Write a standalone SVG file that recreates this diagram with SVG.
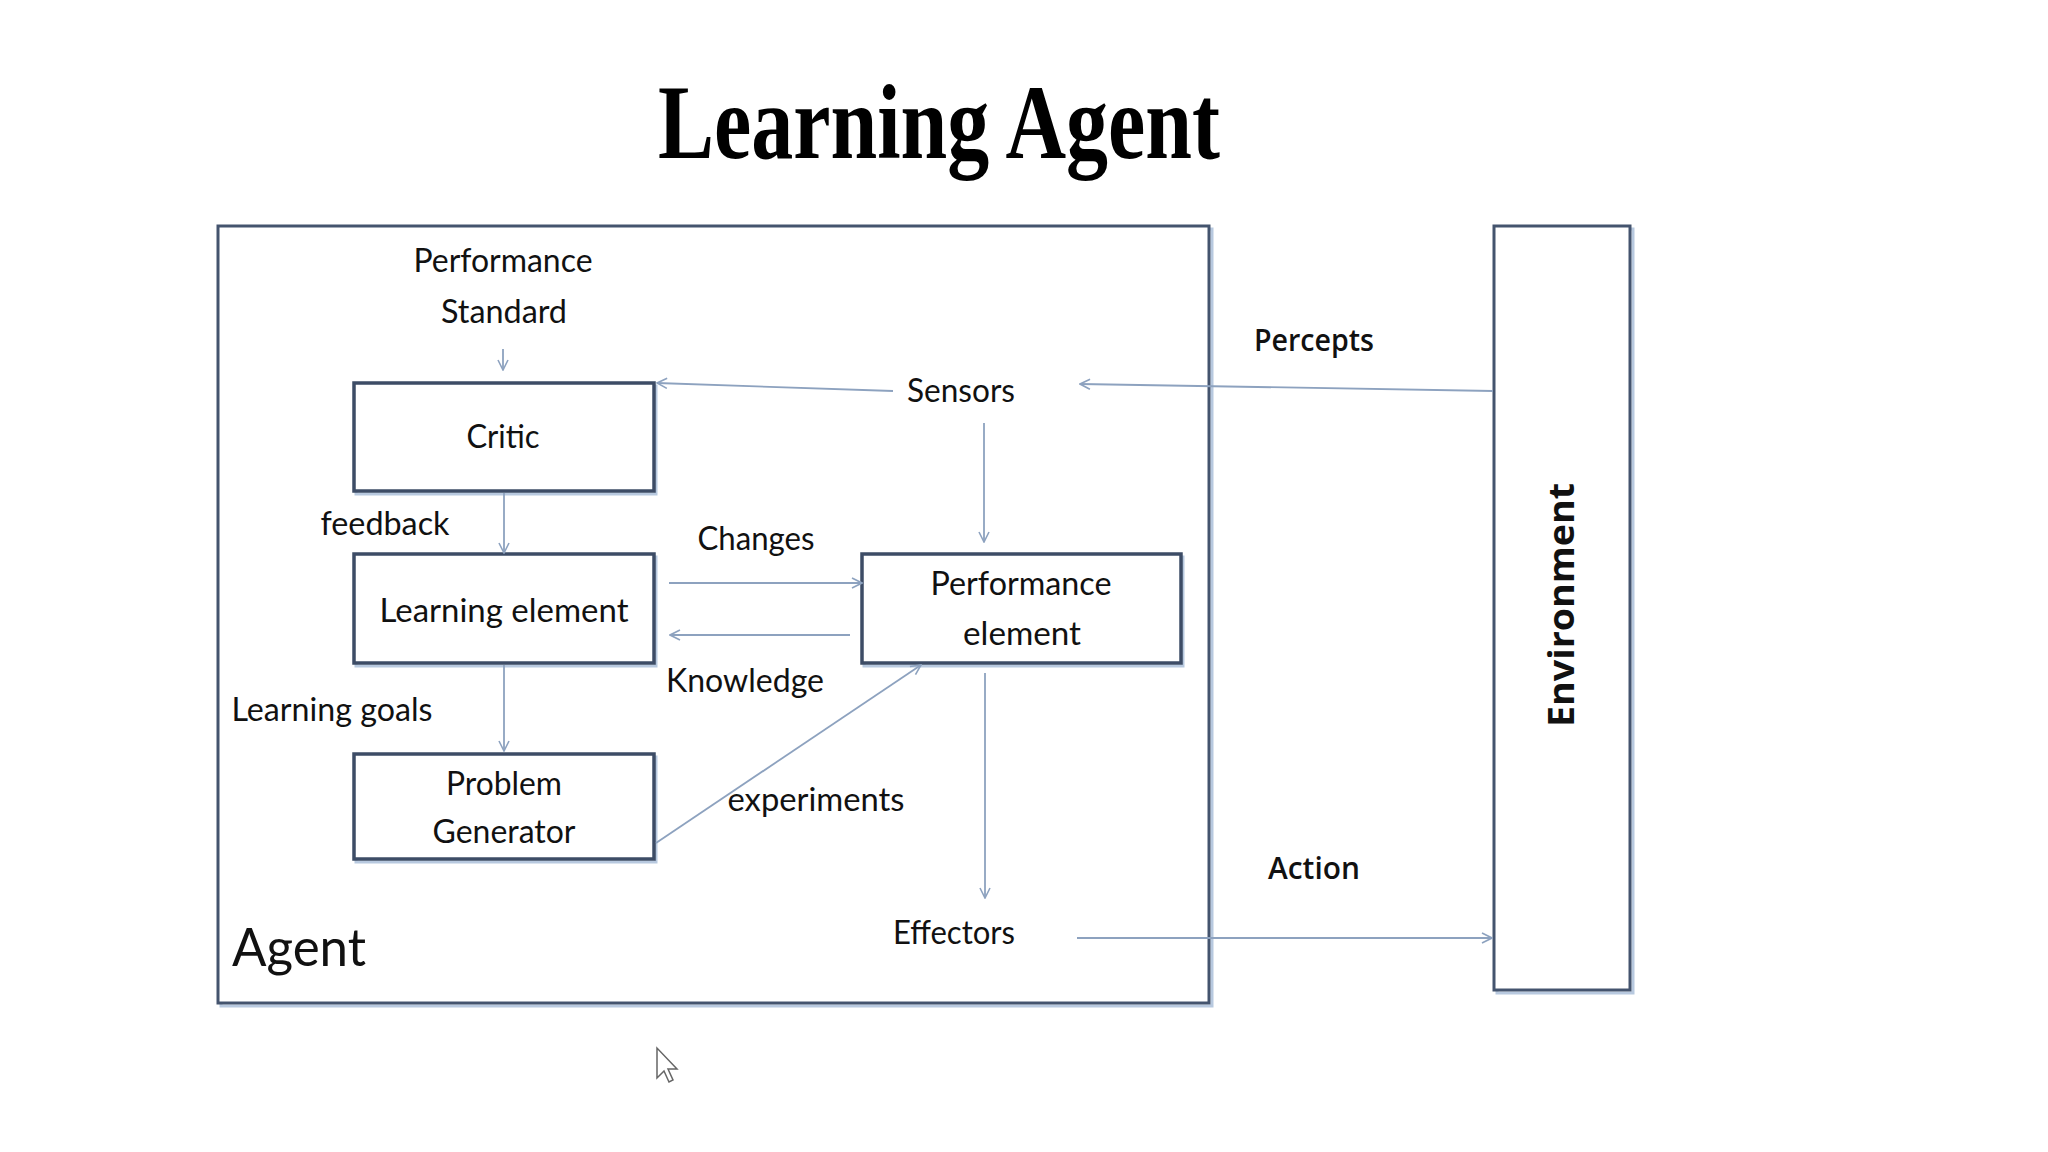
<svg xmlns="http://www.w3.org/2000/svg" width="2048" height="1152" viewBox="0 0 2048 1152">
<defs>
<marker id="ah" viewBox="0 0 12 12" refX="11" refY="6" markerWidth="12" markerHeight="12" markerUnits="userSpaceOnUse" orient="auto">
<path d="M1,1 L11,6 L1,11" fill="none" stroke="#8da2bf" stroke-width="1.6"/>
</marker>
<style>
.box{fill:#ffffff;stroke:#3d4c66;stroke-width:3.5}
.shadow{fill:none;stroke:#b8c9df;stroke-width:3}
.frame{fill:#ffffff;stroke:#44546e;stroke-width:3}
.conn{fill:none;stroke:#8da2bf;stroke-width:1.8;marker-end:url(#ah)}
.line{fill:none;stroke:#8da2bf;stroke-width:1.8}
.lbl{font-family:Lato,"Open Sans","Liberation Sans",sans-serif;font-size:33px;fill:#111111;text-anchor:middle}
.lbl2{font-family:"Open Sans","DejaVu Sans","Liberation Sans",sans-serif;font-weight:600;font-size:31px;fill:#111111;text-anchor:middle}
.title{font-family:"Liberation Serif","Times New Roman",serif;font-weight:bold;font-size:106px;fill:#000000;text-anchor:middle}
</style>
</defs>
<rect width="2048" height="1152" fill="#ffffff"/>

<text class="title" x="939" y="158" textLength="562" lengthAdjust="spacingAndGlyphs">Learning Agent</text>

<g id="agent">
<rect class="shadow" x="221" y="229" width="991" height="777"/>
<rect class="frame" x="218" y="226" width="991" height="777"/>
<text class="lbl" x="299" y="966" style="font-size:52px" textLength="134" lengthAdjust="spacingAndGlyphs">Agent</text>
</g>

<g id="environment">
<rect class="shadow" x="1497" y="229" width="136" height="764"/>
<rect class="frame" x="1494" y="226" width="136" height="764"/>
<text class="lbl2" transform="translate(1574,605) rotate(-90)" x="0" y="0" style="font-weight:bold;font-size:35px" textLength="244" lengthAdjust="spacingAndGlyphs">Environment</text>
</g>

<g id="performance-standard">
<text class="lbl" x="503" y="272" textLength="179" lengthAdjust="spacingAndGlyphs">Performance</text>
<text class="lbl" x="504" y="323" textLength="126" lengthAdjust="spacingAndGlyphs">Standard</text>
</g>

<g id="critic">
<rect class="shadow" x="356" y="386" width="300" height="108"/>
<rect class="box" x="354" y="383" width="300" height="108"/>
<text class="lbl" x="503" y="448" textLength="73" lengthAdjust="spacingAndGlyphs">Critic</text>
</g>

<g id="learning-element">
<rect class="shadow" x="356" y="557" width="300" height="109"/>
<rect class="box" x="354" y="554" width="300" height="109"/>
<text class="lbl" x="504" y="622" textLength="249" lengthAdjust="spacingAndGlyphs">Learning element</text>
</g>

<g id="performance-element">
<rect class="shadow" x="864" y="557" width="319" height="109"/>
<rect class="box" x="862" y="554" width="319" height="109"/>
<text class="lbl" x="1021" y="595" textLength="181" lengthAdjust="spacingAndGlyphs">Performance</text>
<text class="lbl" x="1022" y="645" textLength="118" lengthAdjust="spacingAndGlyphs">element</text>
</g>

<g id="problem-generator">
<rect class="shadow" x="356" y="757" width="300" height="105"/>
<rect class="box" x="354" y="754" width="300" height="105"/>
<text class="lbl" x="504" y="795" textLength="116" lengthAdjust="spacingAndGlyphs">Problem</text>
<text class="lbl" x="504" y="843" textLength="143" lengthAdjust="spacingAndGlyphs">Generator</text>
</g>

<g id="sensors">
<text class="lbl" x="961" y="402" textLength="108" lengthAdjust="spacingAndGlyphs">Sensors</text>
</g>

<g id="effectors">
<text class="lbl" x="954" y="944" textLength="122" lengthAdjust="spacingAndGlyphs">Effectors</text>
</g>

<g id="connectors">
<line class="conn" x1="503" y1="349" x2="503" y2="370"/>
<line class="conn" x1="893" y1="391" x2="657" y2="383"/>
<line class="conn" x1="1493" y1="391" x2="1080" y2="384"/>
<line class="conn" x1="504" y1="493" x2="504" y2="553"/>
<line class="conn" x1="984" y1="423" x2="984" y2="542"/>
<line class="conn" x1="669" y1="583" x2="862" y2="583"/>
<line class="conn" x1="850" y1="635" x2="670" y2="635"/>
<line class="conn" x1="504" y1="665" x2="504" y2="751"/>
<line class="conn" x1="656" y1="843" x2="921" y2="665"/>
<line class="conn" x1="985" y1="673" x2="985" y2="898"/>
<line class="conn" x1="1077" y1="938" x2="1492" y2="938"/>
<text class="lbl" x="385" y="535" textLength="129" lengthAdjust="spacingAndGlyphs">feedback</text>
<text class="lbl" x="756" y="550" textLength="117" lengthAdjust="spacingAndGlyphs">Changes</text>
<text class="lbl" x="745" y="692" textLength="158" lengthAdjust="spacingAndGlyphs">Knowledge</text>
<text class="lbl" x="332" y="721" textLength="201" lengthAdjust="spacingAndGlyphs">Learning goals</text>
<text class="lbl" x="816" y="811" textLength="177" lengthAdjust="spacingAndGlyphs">experiments</text>
<text class="lbl2" x="1314" y="351" textLength="120" lengthAdjust="spacingAndGlyphs">Percepts</text>
<text class="lbl2" x="1314" y="879" textLength="92" lengthAdjust="spacingAndGlyphs">Action</text>
</g>

<path d="M657,1048 L657,1078 L664,1071 L669,1082 L673,1080 L668,1069 L677,1069 Z" fill="#ffffff" stroke="#666666" stroke-width="1.5"/>
</svg>
